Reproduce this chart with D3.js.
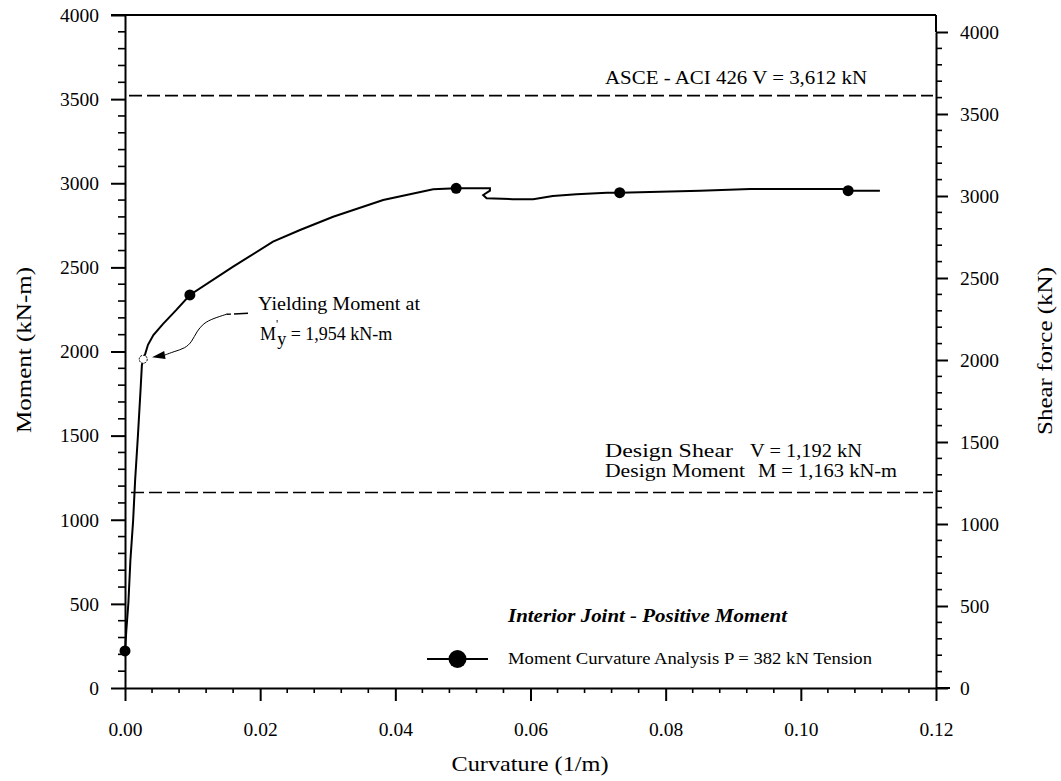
<!DOCTYPE html>
<html lang="en">
<head>
<meta charset="UTF-8">
<title>Moment Curvature - Interior Joint</title>
<script src="https://d3js.org/d3.v7.min.js"></script>
<style>
    body { margin: 0; background: #fff; }
    svg { display: block; }
    text { font-family: "Liberation Serif", "DejaVu Serif", serif; fill: #000; }
    .axis path, .axis line { stroke: #000; }
</style>
</head>
<body>
<div id="chart"></div>
<script>
    // --- data ---
    const curvature = [0, 0.0002, 0.0005, 0.0008, 0.0012, 0.0015, 0.0019, 0.0023, 0.0025, 0.0031, 0.0034,
        0.0042, 0.0056, 0.0076, 0.0096, 0.0160, 0.0219, 0.0259, 0.0308, 0.0382, 0.0456, 0.0490,
        0.0540, 0.0540, 0.0530, 0.0535, 0.0574, 0.0604, 0.0633, 0.0668, 0.0713, 0.0732,
        0.0851, 0.0925, 0.1062, 0.1070, 0.1117];
    const moment = [220, 345, 505, 761, 993, 1236, 1492, 1771, 1920, 2000, 2040,
        2098, 2163, 2247, 2336, 2504, 2653, 2722, 2801, 2900, 2964, 2970,
        2970, 2956, 2930, 2911, 2905, 2905, 2924, 2934, 2944, 2944,
        2956, 2966, 2966, 2956, 2956];
    const markerCurvature = [0, 0.0096, 0.0490, 0.0732, 0.1070];
    const markerMoment = [220, 2336, 2970, 2944, 2956];

    const yieldCurvature = 0.0027;
    const yieldMoment = 1954;
    // leader from the annotation text to the yield point
    const leaderCurvature = [0.0182, 0.0150, 0.0131, 0.0116, 0.0106, 0.0099, 0.0089, 0.0072, 0.0059];
    const leaderMoment = [2227, 2221, 2197, 2168, 2118, 2058, 2019, 1999, 1979];
    const arrowTip = [0.0040, 1966];

    const asceShear = 3612;
    const designShear = 1192;

    const xTicks = [0, 0.02, 0.04, 0.06, 0.08, 0.10, 0.12];
    const yTicks = [0, 500, 1000, 1500, 2000, 2500, 3000, 3500, 4000];

    // --- setup ---
    const width = 1061, height = 781;
    const svg = d3.select("#chart").append("svg")
        .attr("width", width)
        .attr("height", height);

    const x = d3.scaleLinear().domain([0, 0.12]).range([125, 936]);
    const yL = d3.scaleLinear().domain([0, 4000]).range([688, 15]);
    const yR = d3.scaleLinear().domain([0, 4000]).range([688, 32]);

    const fmtX = d3.format(".2f");

    // minor ticks
    const minorX = d3.range(0, 0.1201, 0.004).filter(v => Math.abs(v / 0.02 - Math.round(v / 0.02)) > 1e-6);
    const minorY = d3.range(0, 4001, 100).filter(v => v % 500 !== 0);

    svg.append("g").selectAll("line").data(minorX).join("line")
        .attr("x1", d => x(d)).attr("x2", d => x(d))
        .attr("y1", yL(0)).attr("y2", yL(0) + 5)
        .attr("stroke", "#000").attr("stroke-width", 1.6);
    svg.append("g").selectAll("line").data(minorY).join("line")
        .attr("x1", x(0) - 7).attr("x2", x(0))
        .attr("y1", d => yL(d)).attr("y2", d => yL(d))
        .attr("stroke", "#000").attr("stroke-width", 1.6);
    svg.append("g").selectAll("line").data(minorY).join("line")
        .attr("x1", x(0.12)).attr("x2", x(0.12) + 6)
        .attr("y1", d => yR(d)).attr("y2", d => yR(d))
        .attr("stroke", "#000").attr("stroke-width", 1.6);

    // axes
    const xAxis = svg.append("g").attr("class", "axis")
        .attr("transform", `translate(0,${yL(0)})`)
        .call(d3.axisBottom(x).tickValues(xTicks).tickFormat(fmtX).tickSize(13).tickSizeOuter(0).tickPadding(21));
    const yAxisL = svg.append("g").attr("class", "axis")
        .attr("transform", `translate(${x(0)},0)`)
        .call(d3.axisLeft(yL).tickValues(yTicks).tickFormat(d3.format("d")).tickSize(14).tickSizeOuter(0).tickPadding(12));
    const yAxisR = svg.append("g").attr("class", "axis")
        .attr("transform", `translate(${x(0.12)},0)`)
        .call(d3.axisRight(yR).tickValues(yTicks).tickFormat(d3.format("d")).tickSize(12).tickSizeOuter(0).tickPadding(12));

    [xAxis, yAxisL, yAxisR].forEach(a => {
        a.selectAll("path, line").attr("stroke-width", 2);
        a.selectAll("text").attr("font-size", 19.5).attr("font-family", "Liberation Serif, serif");
    });
    // right axis reaches up to the frame top
    svg.append("line")
        .attr("x1", x(0.12)).attr("x2", x(0.12))
        .attr("y1", yL(4000)).attr("y2", yR(4000))
        .attr("stroke", "#000").attr("stroke-width", 2);
    // top frame line
    svg.append("line")
        .attr("x1", x(0) - 14).attr("x2", x(0.12))
        .attr("y1", yL(4000)).attr("y2", yL(4000))
        .attr("stroke", "#000").attr("stroke-width", 2);
    // x axis baseline extends past right axis
    svg.append("line")
        .attr("x1", x(0.12)).attr("x2", x(0.12) + 14)
        .attr("y1", yL(0)).attr("y2", yL(0))
        .attr("stroke", "#000").attr("stroke-width", 2);

    // axis titles
    svg.append("text")
        .attr("x", 530).attr("y", 771)
        .attr("text-anchor", "middle").attr("font-size", 21)
        .attr("textLength", 157).attr("lengthAdjust", "spacingAndGlyphs")
        .text("Curvature (1/m)");
    svg.append("text")
        .attr("transform", "translate(31,350) rotate(-90)")
        .attr("text-anchor", "middle").attr("font-size", 21)
        .attr("textLength", 166).attr("lengthAdjust", "spacingAndGlyphs")
        .text("Moment (kN-m)");
    svg.append("text")
        .attr("transform", "translate(1052,351) rotate(-90)")
        .attr("text-anchor", "middle").attr("font-size", 21)
        .attr("textLength", 168).attr("lengthAdjust", "spacingAndGlyphs")
        .text("Shear force (kN)");

    // dashed reference lines
    svg.append("line")
        .attr("x1", x(0) + 4).attr("x2", x(0.12) - 3)
        .attr("y1", yR(asceShear)).attr("y2", yR(asceShear))
        .attr("stroke", "#000").attr("stroke-width", 1.6).attr("stroke-dasharray", "13,5");
    svg.append("line")
        .attr("x1", x(0) + 6).attr("x2", x(0.12) - 3)
        .attr("y1", yR(designShear)).attr("y2", yR(designShear))
        .attr("stroke", "#000").attr("stroke-width", 1.6).attr("stroke-dasharray", "13,5");

    svg.append("text")
        .attr("x", 605).attr("y", 84).attr("font-size", 19)
        .attr("textLength", 262).attr("lengthAdjust", "spacingAndGlyphs")
        .text("ASCE - ACI 426 V =  3,612 kN");

    svg.append("text").attr("x", 605).attr("y", 457).attr("font-size", 18)
        .attr("textLength", 128).attr("lengthAdjust", "spacingAndGlyphs")
        .text("Design Shear");
    svg.append("text").attr("x", 750).attr("y", 457).attr("font-size", 18)
        .attr("textLength", 112).attr("lengthAdjust", "spacingAndGlyphs")
        .text("V = 1,192 kN");
    svg.append("text").attr("x", 605).attr("y", 477).attr("font-size", 18)
        .attr("textLength", 140).attr("lengthAdjust", "spacingAndGlyphs")
        .text("Design Moment");
    svg.append("text").attr("x", 758).attr("y", 477).attr("font-size", 18)
        .attr("textLength", 139).attr("lengthAdjust", "spacingAndGlyphs")
        .text("M = 1,163 kN-m");

    // curve
    const pts = curvature.map((c, i) => [c, moment[i]]);
    const line = d3.line().x(d => x(d[0])).y(d => yL(d[1]));
    svg.append("path")
        .datum(pts)
        .attr("d", line)
        .attr("fill", "none").attr("stroke", "#000").attr("stroke-width", 2);

    svg.append("g").selectAll("circle")
        .data(markerCurvature.map((c, i) => [c, markerMoment[i]]))
        .join("circle")
        .attr("cx", d => x(d[0])).attr("cy", d => yL(d[1]))
        .attr("r", 5.5).attr("fill", "#000");

    // yield point + annotation
    svg.append("circle")
        .attr("cx", x(yieldCurvature)).attr("cy", yL(yieldMoment))
        .attr("r", 4).attr("fill", "#fff").attr("stroke", "#000").attr("stroke-width", 1)
        .attr("stroke-dasharray", "2,1");

    const leaderPts = leaderCurvature.map((c, i) => [c, leaderMoment[i]]);
    svg.append("path")
        .datum(leaderPts.slice(0, 2))
        .attr("d", line)
        .attr("fill", "none").attr("stroke", "#000").attr("stroke-width", 1.4)
        .attr("stroke-dasharray", "14,3");
    svg.append("path")
        .datum(leaderPts.slice(1))
        .attr("d", d3.line().curve(d3.curveBasis).x(d => x(d[0])).y(d => yL(d[1])))
        .attr("fill", "none").attr("stroke", "#000").attr("stroke-width", 1);

    // arrow head pointing at the yield point
    const base = leaderPts[leaderPts.length - 1];
    const bx = x(base[0]), by = yL(base[1]);
    const tx = x(arrowTip[0]), ty = yL(arrowTip[1]);
    const ang = Math.atan2(ty - by, tx - bx);
    const hw = 4;
    svg.append("path")
        .attr("d", `M${tx},${ty} L${bx + hw * Math.sin(ang)},${by - hw * Math.cos(ang)} L${bx - hw * Math.sin(ang)},${by + hw * Math.cos(ang)} Z`)
        .attr("fill", "#000");

    svg.append("text").attr("x", 258).attr("y", 310).attr("font-size", 18)
        .attr("textLength", 162).attr("lengthAdjust", "spacingAndGlyphs")
        .text("Yielding Moment at");
    const my = svg.append("text").attr("x", 260).attr("y", 340).attr("font-size", 18);
    my.append("tspan").text("M");
    my.append("tspan").attr("dy", -12).attr("font-size", 12).text("'");
    my.append("tspan").attr("dy", 17).attr("dx", -1).text("y");
    my.append("tspan").attr("dy", -5).text(" = 1,954 kN-m");

    // legend
    svg.append("text")
        .attr("x", 508).attr("y", 622)
        .attr("font-size", 18).attr("font-weight", "bold").attr("font-style", "italic")
        .attr("textLength", 279).attr("lengthAdjust", "spacingAndGlyphs")
        .text("Interior Joint - Positive Moment");
    svg.append("line")
        .attr("x1", 427).attr("x2", 488).attr("y1", 659).attr("y2", 659)
        .attr("stroke", "#000").attr("stroke-width", 2);
    svg.append("circle")
        .attr("cx", 457.5).attr("cy", 659).attr("r", 9).attr("fill", "#000");
    svg.append("text")
        .attr("x", 508).attr("y", 664).attr("font-size", 16)
        .attr("textLength", 364).attr("lengthAdjust", "spacingAndGlyphs")
        .text("Moment Curvature Analysis P = 382 kN Tension");
</script>
</body>
</html>
